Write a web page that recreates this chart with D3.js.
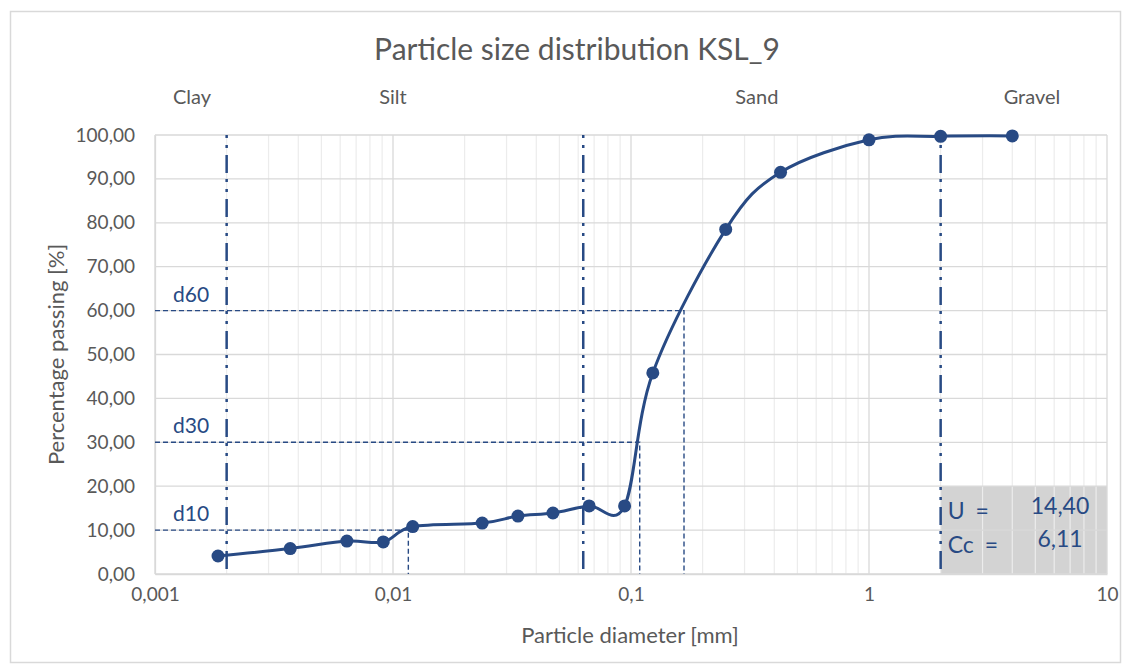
<!DOCTYPE html>
<html>
<head>
<meta charset="utf-8">
<script src="https://cdn.jsdelivr.net/npm/d3@7"></script>
<style>
  html, body { margin: 0; padding: 0; background: #fff; }
  svg { display: block; font-family: Lato, "Open Sans", sans-serif; }
</style>
</head>
<body>
<svg id="chart" width="1131" height="672"></svg>
<script>
// Sieve / hydrometer results: particle diameter [mm] and percentage passing [%]
const diameters = [0.00184, 0.0037, 0.0064, 0.0091, 0.0121, 0.0237, 0.0335, 0.047, 0.0667, 0.094, 0.1235, 0.25, 0.425, 1, 2, 4];
const passing   = [4.1, 5.8, 7.5, 7.3, 10.8, 11.6, 13.2, 13.9, 15.5, 15.5, 45.8, 78.5, 91.5, 98.9, 99.7, 99.8];

// Soil fraction boundaries [mm] and labels
const fractionBounds = [0.002, 0.063, 2];
const fractionLabels = ["Clay", "Silt", "Sand", "Gravel"];
const fractionLabelAt = [0.00143, 0.01, 0.338, 4.84];

// Characteristic diameters
const dNames = ["d10", "d30", "d60"];
const dPercent = [10, 30, 60];
const dValues = [0.0116, 0.1088, 0.167];

const xTicks = [0.001, 0.01, 0.1, 1, 10];
const xTickLabels = ["0,001", "0,01", "0,1", "1", "10"];
const yTicks = [0, 10, 20, 30, 40, 50, 60, 70, 80, 90, 100];

const coeffNames = ["U =", "Cc ="];
const coeffValues = ["14,40", "6,11"];

const blue = "#284a84";
const textGray = "#595959";

const svg = d3.select("#chart");

// Chart border
svg.append("rect")
  .attr("x", 10.5).attr("y", 11.5).attr("width", 1110).attr("height", 651)
  .attr("fill", "#fff").attr("stroke", "#d9d9d9").attr("stroke-width", 1.5);

const x = d3.scaleLog().domain([0.001, 10]).range([155, 1107]);
const y = d3.scaleLinear().domain([0, 100]).range([574, 135]);

// Coefficient box (drawn under the gridlines)
svg.append("rect")
  .attr("x", x(2)).attr("y", y(20))
  .attr("width", x(10) - x(2)).attr("height", y(0) - y(20))
  .attr("fill", "#d3d3d3");

// Minor vertical gridlines
const minor = [];
for (let e = -3; e < 1; e++) for (let m = 2; m <= 9; m++) minor.push(m * Math.pow(10, e));
svg.append("g").selectAll("line").data(minor).join("line")
  .attr("x1", d => x(d)).attr("x2", d => x(d))
  .attr("y1", y(100)).attr("y2", y(0))
  .attr("stroke", "#ececec").attr("stroke-width", 1.2);

// Major gridlines
svg.append("g").selectAll("line").data(xTicks).join("line")
  .attr("x1", d => x(d)).attr("x2", d => x(d))
  .attr("y1", y(100)).attr("y2", y(0))
  .attr("stroke", "#d9d9d9").attr("stroke-width", 1.3);
svg.append("g").selectAll("line").data(yTicks).join("line")
  .attr("x1", x(0.001)).attr("x2", x(10))
  .attr("y1", d => y(d)).attr("y2", d => y(d))
  .attr("stroke", "#d9d9d9").attr("stroke-width", 1.3);

// Axes
const xAxis = d3.axisBottom(x).tickValues(xTicks)
  .tickFormat((d, i) => xTickLabels[i]).tickSize(0).tickPadding(14);
const gx = svg.append("g").attr("transform", `translate(0,${y(0)})`).call(xAxis);
gx.select(".domain").attr("stroke", "#d9d9d9").attr("stroke-width", 1.3);
gx.selectAll("text").attr("fill", textGray).attr("font-size", 19).attr("font-family", "Lato");

const yAxis = d3.axisLeft(y).tickValues(yTicks)
  .tickFormat(d => d3.format(".2f")(d).replace(".", ",")).tickSize(0).tickPadding(20);
const gy = svg.append("g").attr("transform", `translate(${x(0.001)},0)`).call(yAxis);
gy.select(".domain").attr("stroke", "#d9d9d9").attr("stroke-width", 1.3);
gy.selectAll("text").attr("fill", textGray).attr("font-size", 19).attr("font-family", "Lato");

// Fraction boundaries (long dash - dot - dot)
svg.append("g").selectAll("line").data(fractionBounds).join("line")
  .attr("x1", d => x(d)).attr("x2", d => x(d))
  .attr("y1", y(100)).attr("y2", y(0))
  .attr("stroke", blue).attr("stroke-width", 2.5)
  .attr("stroke-dasharray", "3 7 3 7 18 6");

// Characteristic diameter guides
const dg = svg.append("g").attr("stroke", blue).attr("stroke-width", 1.4)
  .attr("stroke-dasharray", "5 3").attr("fill", "none");
dValues.forEach((dv, i) => {
  dg.append("path")
    .attr("d", `M${x(0.001)},${y(dPercent[i])}H${x(dv)}V${y(0)}`);
});
svg.append("g").selectAll("text").data(dNames).join("text")
  .attr("x", 191).attr("y", (d, i) => y(dPercent[i]) - 9)
  .attr("text-anchor", "middle").attr("fill", blue).attr("font-size", 21)
  .text(d => d);

// Grading curve
const line = d3.line()
  .x(d => x(d[0])).y(d => y(d[1]))
  .curve(d3.curveCardinal.tension(0));
const pts = diameters.map((d, i) => [d, passing[i]]);
svg.append("path").datum(pts)
  .attr("d", line).attr("fill", "none")
  .attr("stroke", blue).attr("stroke-width", 3);
svg.append("g").selectAll("circle").data(pts).join("circle")
  .attr("cx", d => x(d[0])).attr("cy", d => y(d[1])).attr("r", 6.5)
  .attr("fill", blue);

// Coefficients
const cg = svg.append("g").attr("fill", blue).attr("font-size", 23);
coeffNames.forEach((n, i) => {
  cg.append("text").attr("x", x(2) + 7).attr("y", i === 0 ? 519 : 553)
    .attr("word-spacing", 5).text(n);
  cg.append("text").attr("x", 1060).attr("y", i === 0 ? 514 : 547)
    .attr("text-anchor", "middle").text(coeffValues[i]);
});

// Fraction labels
svg.append("g").selectAll("text").data(fractionLabels).join("text")
  .attr("x", (d, i) => x(fractionLabelAt[i])).attr("y", 104)
  .attr("text-anchor", "middle").attr("fill", textGray).attr("font-size", 20)
  .text(d => d);

// Title
svg.append("text").attr("x", 577).attr("y", 60)
  .attr("text-anchor", "middle").attr("fill", textGray).attr("font-size", 30)
  .text("Particle size distribution KSL_9");

// Axis titles
svg.append("text").attr("x", 630).attr("y", 643)
  .attr("text-anchor", "middle").attr("fill", textGray).attr("font-size", 22)
  .text("Particle diameter [mm]");
svg.append("text")
  .attr("transform", `translate(64,${(y(0) + y(100)) / 2}) rotate(-90)`)
  .attr("text-anchor", "middle").attr("fill", textGray).attr("font-size", 22)
  .text("Percentage passing [%]");
</script>
</body>
</html>
